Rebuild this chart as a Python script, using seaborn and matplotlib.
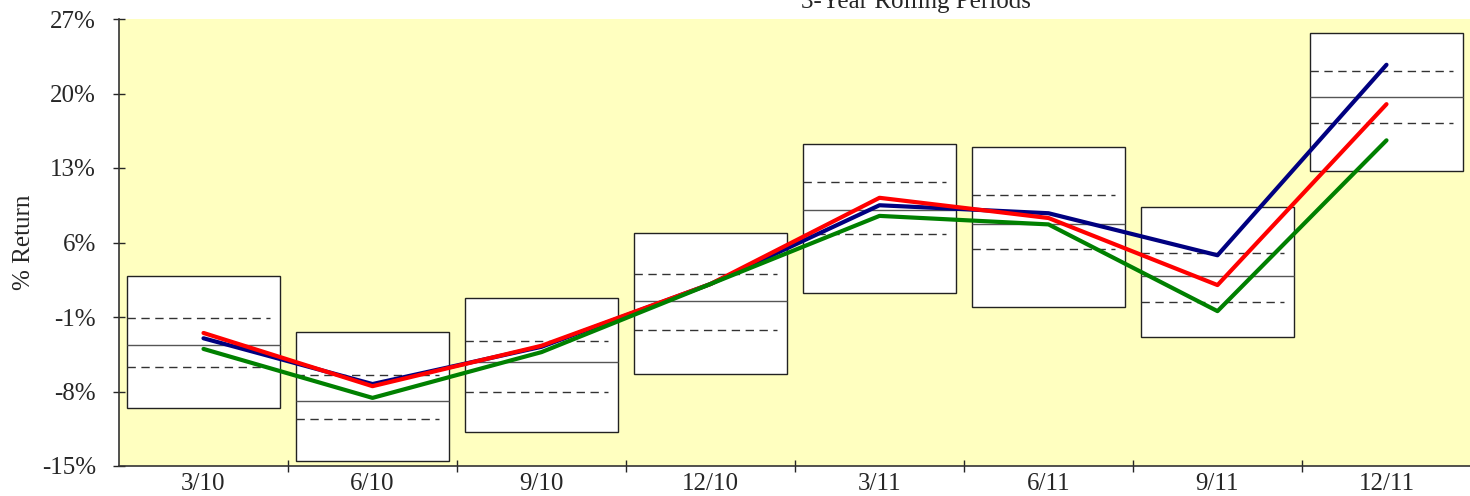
"""Floating-range chart of 3-year rolling returns with three series overlaid."""
import matplotlib

matplotlib.use("Agg")
import matplotlib.pyplot as plt
import pandas as pd
import seaborn as sns

# ---------------------------------------------------------------------------
# Data
# ---------------------------------------------------------------------------
periods = ["3/10", "6/10", "9/10", "12/10", "3/11", "6/11", "9/11", "12/11"]

range_high = [2.85, -2.4, 0.8, 6.9, 15.25, 15.0, 9.3, 25.7]
upper_q = [-1.1, -6.45, -3.25, 3.0, 11.7, 10.45, 5.0, 22.1]
median = [-3.65, -8.9, -5.25, 0.5, 9.05, 7.7, 2.85, 19.65]
lower_q = [-5.7, -10.6, -8.05, -2.2, 6.8, 5.4, 0.4, 17.2]
range_low = [-9.55, -14.55, -11.8, -6.35, 1.25, -0.05, -2.9, 12.7]

navy_series = [-3.0, -7.3, -3.8, 2.1, 9.5, 8.75, 4.8, 22.7]
red_series = [-2.5, -7.5, -3.7, 2.1, 10.2, 8.3, 2.0, 19.0]
green_series = [-4.0, -8.6, -4.3, 2.1, 8.5, 7.7, -0.45, 15.6]

series_names = ["Series A", "Series B", "Series C"]
series_colors = ["#000080", "#FF0000", "#008000"]

y_ticks = [-15, -8, -1, 6, 13, 20, 27]

# ---------------------------------------------------------------------------
sns.set_style("ticks")
plt.rcParams["font.family"] = ["Liberation Serif", "DejaVu Serif"]

fig = plt.figure(figsize=(14.7, 4.96), dpi=100)
ax = fig.add_axes([119 / 1470, 30 / 496, 1352 / 1470, 447 / 496])
ax.set_facecolor("#FFFFC0")

x = list(range(len(periods)))
box_w = 0.905

# floating boxes: low -> high
heights = [h - l for h, l in zip(range_high, range_low)]
ax.bar(x, heights, bottom=range_low, width=box_w, color="white",
       edgecolor="#222222", linewidth=1.0, zorder=2)

left = [i - box_w / 2 for i in x]
right = [i + box_w / 2 for i in x]
ax.hlines(median, left, right, colors="#555555", linewidth=1.0, zorder=3)
right_dash = [i + box_w / 2 - 0.06 for i in x]
ax.hlines(upper_q, left, right_dash, colors="#333333", linewidth=1.0,
          linestyles=(0, (6, 4)), zorder=3)
ax.hlines(lower_q, left, right_dash, colors="#333333", linewidth=1.0,
          linestyles=(0, (6, 4)), zorder=3)

lines = pd.DataFrame({
    "pos": x * 3,
    "ret": navy_series + red_series + green_series,
    "series": sum([[n] * len(periods) for n in series_names], []),
})
sns.lineplot(data=lines, x="pos", y="ret", hue="series", hue_order=series_names,
             palette=series_colors, linewidth=3, legend=False, ax=ax, zorder=4)

ax.set_xlim(-0.5, len(periods) - 0.5)
ax.set_ylim(-15, 27)
ax.set_yticks(y_ticks)
ax.set_yticklabels([f"{v}%" for v in y_ticks], fontsize=18)
ax.set_xticks(x)
ax.set_xticklabels(periods, fontsize=18)
ax.set_xticks([i + 0.5 for i in x[:-1]], minor=True)
ax.tick_params(axis="x", which="major", length=0, pad=5)
ax.tick_params(axis="x", which="minor", direction="inout", length=9, width=1)
ax.tick_params(axis="y", direction="inout", length=9, width=1, pad=12)
ax.set_xlabel("")
ax.set_ylabel("% Return", fontsize=18, labelpad=5)

for side in ("top", "right"):
    ax.spines[side].set_visible(False)
for side in ("left", "bottom"):
    ax.spines[side].set_color("#333333")
    ax.spines[side].set_linewidth(1.2)

fig.text(916 / 1470, 1 - 8 / 496, "3-Year Rolling Periods", ha="center",
         va="baseline", fontsize=18)

fig.savefig("out.png", dpi=100)
